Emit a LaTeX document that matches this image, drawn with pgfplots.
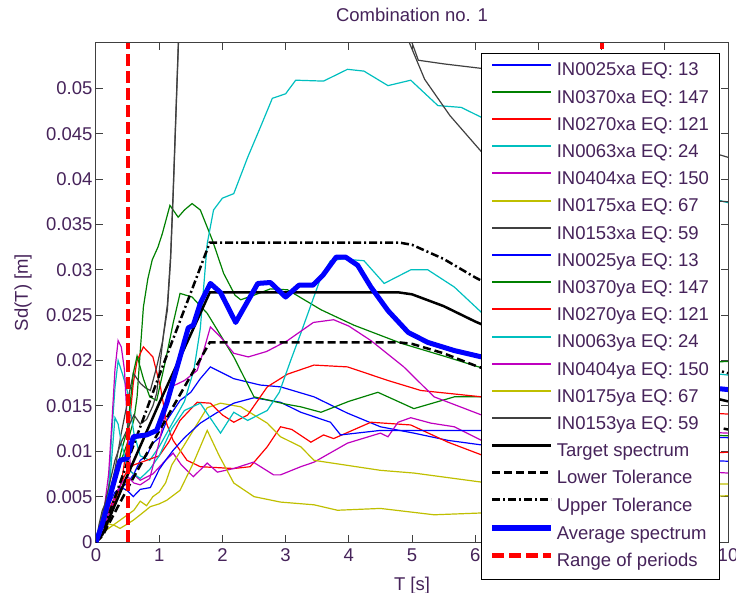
\documentclass[border=0pt]{standalone}
\usepackage{fontspec}
\setmainfont{Liberation Sans}
\usepackage{pgfplots}
\pgfplotsset{compat=1.18}

\definecolor{txt}{RGB}{70,35,90}
\definecolor{mlblue}{rgb}{0,0,1}
\definecolor{mlgreen}{rgb}{0,0.5,0}
\definecolor{mlred}{rgb}{1,0,0}
\definecolor{mlcyan}{rgb}{0,0.75,0.75}
\definecolor{mlmag}{rgb}{0.75,0,0.75}
\definecolor{mlyel}{rgb}{0.75,0.75,0}
\definecolor{mlgray}{rgb}{0.25,0.25,0.25}
\newcommand\chartfont{\fontsize{18.5}{22}\selectfont}

\begin{document}
\begin{tikzpicture}
\path[use as bounding box] (-96pt,-50pt) rectangle (640pt,542pt);
\begin{axis}[
  scale only axis,
  width=632pt, height=499pt,
  xmin=0, xmax=10, ymin=0, ymax=0.055,
  xtick={0,1,2,3,4,5,6,7,8,9,10},
  ytick={0,0.005,0.01,0.015,0.02,0.025,0.03,0.035,0.04,0.045,0.05},
  yticklabels={0,0.005,0.01,0.015,0.02,0.025,0.03,0.035,0.04,0.045,0.05},
  scaled y ticks=false,
  xtick pos=both, ytick pos=both,
  xticklabel pos=lower, yticklabel pos=left,
  tick align=inside,
  major tick length=7pt,
  axis line style={line width=1pt, black!75},
  every tick/.style={line width=1pt, black!75},
  /pgf/number format/assume math mode=true,
  tick label style={font=\chartfont, text=txt},
  xticklabel style={yshift=-3pt},
  title={Combination no. 1},
  title style={font=\chartfont, text=txt, at={(axis description cs:0.5,1)}, anchor=base, yshift=15pt},
  xlabel={T [s]},
  xlabel style={font=\chartfont, text=txt, at={(axis description cs:0.5,0)}, anchor=base, yshift=-48pt},
  ylabel={Sd(T) [m]},
  ylabel style={font=\chartfont, text=txt, at={(axis description cs:-0.1076,0.5)}, anchor=base, rotate=0},
  every axis plot/.append style={line width=1.2pt},
  legend image code/.code={\path (0pt,0pt); \draw[#1, line width=\pgflinewidth+0.4pt] (0pt,6.6pt) -- (59pt,6.6pt);},
  legend cell align=left,
  legend style={at={(rel axis cs:0.9873,0.98)}, anchor=north east,
    draw=black, line width=1pt, fill=white, font=\chartfont, text=txt,
    inner xsep=8pt, inner ysep=9pt, row sep=9.7pt,
    nodes={inner xsep=2.5pt, inner ysep=0pt, text height=13.5pt, text depth=4pt}},
]
% IN0025xa
\addplot[color=mlblue] coordinates {(0,0)(0.1,0.0015)(0.2,0.003)(0.3,0.005)(0.4,0.006)(0.5,0.0065)(0.6,0.0075)(0.7,0.009)(0.8,0.0095)(0.9,0.0109)(1.02,0.0116)(1.12,0.0134)(1.33,0.0156)(1.5,0.0165)(1.65,0.018)(1.81,0.0193)(2.18,0.018)(2.6,0.0173)(2.92,0.0171)(3.45,0.016)(3.98,0.0142)(4.5,0.0127)(5.03,0.012)(5.57,0.0112)(6.1,0.0107)(7,0.0100)(8,0.0095)(9,0.0092)(10,0.0089)};
% IN0370xa
\addplot[color=mlgreen] coordinates {(0,0)(0.1,0.002)(0.2,0.0045)(0.3,0.007)(0.4,0.009)(0.5,0.011)(0.6,0.0135)(0.65,0.016)(0.7,0.021)(0.75,0.0259)(0.82,0.029)(0.89,0.0311)(0.98,0.0325)(1.05,0.034)(1.17,0.0371)(1.3,0.0358)(1.4,0.0366)(1.52,0.0373)(1.65,0.0366)(1.84,0.0333)(2.02,0.0296)(2.2,0.0272)(2.29,0.0267)(2.5,0.0272)(2.76,0.0279)(3.03,0.0278)(3.56,0.0256)(4.08,0.0239)(4.83,0.0219)(5.5,0.0205)(6.1,0.0192)(7,0.0188)(8,0.0192)(9,0.0196)(10,0.0199)};
% IN0270xa
\addplot[color=mlred] coordinates {(0,0)(0.1,0.0015)(0.2,0.003)(0.3,0.0045)(0.4,0.0065)(0.5,0.011)(0.59,0.0175)(0.65,0.020)(0.75,0.0215)(0.9,0.0204)(1.02,0.0171)(1.12,0.013)(1.22,0.0112)(1.44,0.009)(1.65,0.0083)(2.18,0.0081)(2.44,0.0083)(2.71,0.0105)(2.92,0.0127)(3.1,0.0124)(3.4,0.011)(3.6,0.0118)(3.76,0.0114)(4.35,0.0132)(4.98,0.0129)(5.57,0.011)(6.1,0.0096)(7,0.0089)(8,0.0091)(9,0.0095)(10,0.0099)};
% IN0063xa
\addplot[color=mlcyan] coordinates {(0,0)(0.1,0.002)(0.2,0.006)(0.25,0.012)(0.3,0.017)(0.35,0.020)(0.42,0.0185)(0.5,0.0165)(0.6,0.012)(0.7,0.0095)(0.85,0.009)(1.0,0.0105)(1.2,0.013)(1.4,0.0155)(1.55,0.019)(1.65,0.0235)(1.76,0.0329)(1.86,0.0366)(2.0,0.0379)(2.18,0.0384)(2.4,0.0424)(2.6,0.0457)(2.79,0.0489)(3.0,0.0494)(3.16,0.0509)(3.6,0.0508)(3.98,0.0521)(4.24,0.0519)(4.62,0.0503)(4.98,0.0509)(5.41,0.0481)(5.78,0.0479)(6.1,0.0468)(7,0.0440)(8,0.0415)(9,0.0392)(10,0.0374)};
% IN0404xa
\addplot[color=mlmag] coordinates {(0,0)(0.1,0.002)(0.2,0.0075)(0.25,0.013)(0.3,0.019)(0.35,0.0222)(0.4,0.0215)(0.45,0.019)(0.5,0.0125)(0.55,0.0078)(0.7,0.0068)(0.9,0.0075)(1.06,0.0087)(1.22,0.0098)(1.35,0.0085)(1.54,0.0072)(1.76,0.0087)(1.92,0.0077)(2.18,0.0081)(2.49,0.0088)(2.81,0.0074)(2.92,0.0074)(3.24,0.0083)(3.45,0.0088)(3.98,0.0109)(4.5,0.012)(4.62,0.0116)(4.78,0.0132)(4.98,0.0137)(5.3,0.0131)(5.67,0.0127)(6.1,0.0112)(7,0.0095)(8,0.0085)(9,0.008)(10,0.0076)};
% IN0175xa
\addplot[color=mlyel] coordinates {(0,0)(0.1,0.001)(0.2,0.0015)(0.4,0.0025)(0.6,0.0035)(0.7,0.0045)(0.8,0.004)(0.9,0.005)(1.0,0.0055)(1.1,0.0065)(1.2,0.0085)(1.38,0.0105)(1.6,0.013)(1.76,0.0148)(1.97,0.0153)(2.29,0.0149)(2.71,0.0131)(2.92,0.0116)(3.24,0.0105)(3.45,0.009)(4.5,0.0079)(5.03,0.0076)(6.1,0.0066)(7,0.0065)(8,0.0065)(9,0.0064)(10,0.0064)};
% IN0153xa
\addplot[color=mlgray] coordinates {(0,0)(0.05,0.002)(0.1,0.0035)(0.2,0.005)(0.3,0.008)(0.4,0.012)(0.5,0.0155)(0.59,0.0186)(0.7,0.0175)(0.78,0.017)(0.86,0.0167)(0.96,0.0193)(1.05,0.022)(1.13,0.0256)(1.18,0.031)(1.22,0.038)(1.26,0.046)(1.31,0.056)(1.5,0.075)(2,0.09)(3,0.085)(4,0.07)(4.95,0.056)(5.1,0.0531)(5.5,0.0527)(6.1,0.0522)(7,0.050)(8,0.047)(9,0.0445)(10,0.0424)};
% IN0025ya
\addplot[color=mlblue] coordinates {(0,0)(0.1,0.002)(0.2,0.004)(0.3,0.0055)(0.4,0.006)(0.49,0.0057)(0.59,0.005)(0.7,0.0058)(0.86,0.006)(1.0,0.008)(1.1,0.009)(1.22,0.0101)(1.4,0.0115)(1.65,0.0131)(1.9,0.0142)(2.18,0.0153)(2.5,0.0159)(2.92,0.0154)(3.24,0.0143)(3.71,0.0132)(3.87,0.0118)(4.5,0.0123)(4.98,0.0123)(6.1,0.0123)(7,0.012)(8,0.0118)(9,0.0116)(10,0.0115)};
% IN0370ya
\addplot[color=mlgreen] coordinates {(0,0)(0.1,0.002)(0.2,0.004)(0.3,0.007)(0.4,0.010)(0.5,0.0125)(0.59,0.0186)(0.65,0.0205)(0.75,0.018)(0.85,0.016)(0.96,0.0156)(1.1,0.020)(1.22,0.0241)(1.33,0.0274)(1.52,0.027)(1.76,0.0252)(2.18,0.0204)(2.5,0.016)(3.0,0.0152)(3.24,0.0149)(3.56,0.0143)(4.0,0.0155)(4.46,0.0165)(5.03,0.0147)(5.67,0.016)(6.1,0.016)(7,0.0145)(8,0.013)(9,0.012)(10,0.0117)};
% IN0270ya
\addplot[color=mlred] coordinates {(0,0)(0.1,0.002)(0.2,0.0035)(0.3,0.005)(0.4,0.0065)(0.5,0.008)(0.6,0.0085)(0.8,0.009)(1.0,0.0095)(1.15,0.011)(1.33,0.0134)(1.6,0.0154)(1.81,0.0153)(2.0,0.014)(2.18,0.0132)(2.4,0.014)(2.71,0.0171)(3.03,0.0185)(3.45,0.0195)(3.98,0.0193)(4.62,0.0178)(5.14,0.0167)(6.1,0.016)(7,0.0155)(8,0.015)(9,0.0145)(10,0.0141)};
% IN0063ya
\addplot[color=mlcyan] coordinates {(0,0)(0.1,0.002)(0.2,0.005)(0.3,0.0137)(0.35,0.013)(0.4,0.011)(0.5,0.008)(0.6,0.0075)(0.7,0.007)(0.85,0.008)(1.0,0.0095)(1.2,0.0125)(1.4,0.0145)(1.65,0.0153)(1.97,0.012)(2.18,0.0143)(2.4,0.0134)(2.71,0.0145)(2.9,0.0165)(3.08,0.020)(3.24,0.023)(3.56,0.0292)(3.71,0.031)(3.9,0.0312)(4.24,0.031)(4.56,0.0285)(4.98,0.030)(5.25,0.030)(5.67,0.0281)(6.1,0.0253)(7,0.0225)(8,0.0205)(9,0.0192)(10,0.0184)};
% IN0404ya
\addplot[color=mlmag] coordinates {(0,0)(0.1,0.0015)(0.2,0.003)(0.3,0.005)(0.4,0.0065)(0.5,0.0072)(0.6,0.0065)(0.7,0.0063)(0.85,0.007)(1.0,0.011)(1.13,0.0153)(1.22,0.0172)(1.4,0.0178)(1.6,0.0189)(1.7,0.021)(1.81,0.0237)(1.97,0.0226)(2.18,0.0208)(2.41,0.0204)(2.7,0.021)(3.03,0.0222)(3.44,0.0242)(3.76,0.0245)(4.0,0.0238)(4.35,0.0222)(4.87,0.0193)(5.35,0.016)(6.1,0.014)(7,0.0132)(8,0.0127)(9,0.0123)(10,0.012)};
% IN0175ya
\addplot[color=mlyel] coordinates {(0,0)(0.1,0.001)(0.2,0.002)(0.3,0.0018)(0.38,0.0015)(0.5,0.002)(0.59,0.0024)(0.7,0.003)(0.86,0.0039)(1.0,0.0042)(1.12,0.0046)(1.33,0.0057)(1.54,0.0087)(1.65,0.0105)(1.76,0.0123)(1.95,0.0095)(2.18,0.0065)(2.5,0.005)(2.92,0.0044)(3.45,0.0041)(3.82,0.0035)(4.5,0.0037)(5.35,0.003)(6.1,0.0032)(7,0.0038)(8,0.0043)(9,0.0048)(10,0.0051)};
% IN0153ya
\addplot[color=mlgray] coordinates {(0,0)(0.1,0.003)(0.2,0.006)(0.3,0.009)(0.4,0.011)(0.5,0.0125)(0.6,0.014)(0.7,0.013)(0.8,0.0135)(0.9,0.015)(0.96,0.0164)(1.07,0.0230)(1.13,0.0262)(1.18,0.0315)(1.22,0.0385)(1.26,0.0465)(1.31,0.0565)(1.5,0.07)(2,0.08)(3,0.075)(4,0.065)(4.9,0.056)(5.2,0.051)(5.6,0.047)(6.1,0.043)(7,0.040)(8,0.0385)(9,0.038)(10,0.0375)};
% target spectrum
\addplot[color=black, line width=2.5pt] coordinates {(0,0)(0.1,0.0008)(0.5,0.0074)(1,0.0153)(1.5,0.0229)(1.8,0.0275)(4.8,0.0275)(5.0,0.0273)(5.5,0.0260)(6.0,0.0243)(6.5,0.0228)(7,0.0215)(8,0.0192)(9,0.0172)(10,0.0155)};
% lower tolerance
\addplot[color=black, line width=2.5pt, dash pattern=on 8pt off 4pt] coordinates {(0,0)(0.1,0.00064)(0.5,0.00592)(1,0.01224)(1.5,0.01832)(1.8,0.022)(4.8,0.022)(5.0,0.02184)(5.5,0.0208)(6.0,0.01944)(6.5,0.01824)(7,0.0172)(8,0.01536)(9,0.01376)(10,0.0124)};
% upper tolerance
\addplot[color=black, line width=2.5pt, dash pattern=on 8pt off 3pt on 2pt off 3pt] coordinates {(0,0)(0.1,0.00096)(0.5,0.00888)(1,0.01836)(1.5,0.02748)(1.8,0.033)(4.8,0.033)(5.0,0.03276)(5.5,0.0312)(6.0,0.02916)(6.5,0.02736)(7,0.0258)(8,0.02304)(9,0.02064)(10,0.0186)};
% average spectrum
\addplot[color=mlblue, line width=5pt, line join=round] coordinates {(0,0)(0.1,0.002)(0.2,0.0045)(0.3,0.007)(0.38,0.009)(0.49,0.0092)(0.59,0.0116)(0.8,0.0118)(0.96,0.0123)(1.12,0.0153)(1.33,0.0204)(1.46,0.0236)(1.54,0.0239)(1.65,0.0263)(1.81,0.0285)(1.97,0.0275)(2.21,0.0242)(2.56,0.0285)(2.76,0.0286)(3.0,0.027)(3.21,0.0283)(3.43,0.0283)(3.59,0.0294)(3.8,0.0314)(3.95,0.0314)(4.14,0.0305)(4.35,0.0281)(4.62,0.0255)(4.94,0.0231)(5.25,0.022)(5.67,0.0211)(6.1,0.0204)(7,0.0195)(8,0.0185)(9,0.0175)(10,0.0168)};
% range of periods
\addplot[color=mlred, line width=4pt, dash pattern=on 12pt off 5pt] coordinates {(0.5,0)(0.5,0.055)};
\addplot[color=mlred, line width=4pt, dash pattern=on 12pt off 5pt, forget plot] coordinates {(8,0)(8,0.055)};
\legend{IN0025xa EQ: 13, IN0370xa EQ: 147, IN0270xa EQ: 121, IN0063xa EQ: 24, IN0404xa EQ: 150, IN0175xa EQ: 67, IN0153xa EQ: 59, IN0025ya EQ: 13, IN0370ya EQ: 147, IN0270ya EQ: 121, IN0063ya EQ: 24, IN0404ya EQ: 150, IN0175ya EQ: 67, IN0153ya EQ: 59, Target spectrum, Lower Tolerance, Upper Tolerance, Average spectrum, Range of periods}
\end{axis}
\end{tikzpicture}
\end{document}
